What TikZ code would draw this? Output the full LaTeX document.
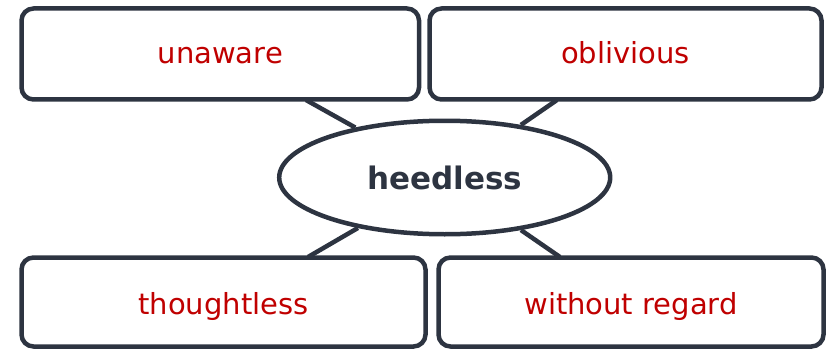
\documentclass[tikz,border=0pt]{standalone}
\usepackage{fontspec}
\setmainfont{DejaVu Sans}
\usetikzlibrary{shapes.geometric,backgrounds}
\definecolor{ink}{HTML}{2D3441}
\definecolor{wordred}{HTML}{C00000}
\tikzset{
  wordbox/.style={draw=ink, line width=4.5pt, rounded corners=12pt, fill=white,
    rectangle, inner sep=0pt, text=wordred, font=\fontsize{29}{34}\selectfont,
    text height=22pt, text depth=2pt},
  lowbox/.style={wordbox, text height=24pt, text depth=0pt},
  hub/.style={draw=ink, line width=4.5pt, fill=white, ellipse, inner sep=0pt,
    minimum width=331pt, minimum height=113.5pt, text=ink,
    font=\fontsize{31}{36}\selectfont\bfseries},
  link/.style={draw=ink, line width=4.5pt}
}
\begin{document}
\begin{tikzpicture}[x=1pt,y=-1pt]
\useasboundingbox (0,0) rectangle (826,350);
\node[wordbox, minimum width=397.5pt, minimum height=91pt] (tl) at (220.25,54) {unaware};
\node[wordbox, minimum width=392pt, minimum height=91pt] (tr) at (625.5,54) {oblivious};
\node[lowbox, minimum width=404pt, minimum height=89pt] (bl) at (223.5,302) {thoughtless};
\node[lowbox, minimum width=385pt, minimum height=89pt] (br) at (631,302) {without regard};
\node[hub] (e) at (444.7,177.5) {heedless};
\coordinate (ctl) at (306,100);
\coordinate (ctr) at (557,100);
\coordinate (cbl) at (308,257);
\coordinate (cbr) at (560,257);
\begin{scope}[on background layer]
\draw[link] (e) -- (ctl);
\draw[link] (e) -- (ctr);
\draw[link] (e) -- (cbl);
\draw[link] (e) -- (cbr);
\end{scope}
\end{tikzpicture}
\end{document}
